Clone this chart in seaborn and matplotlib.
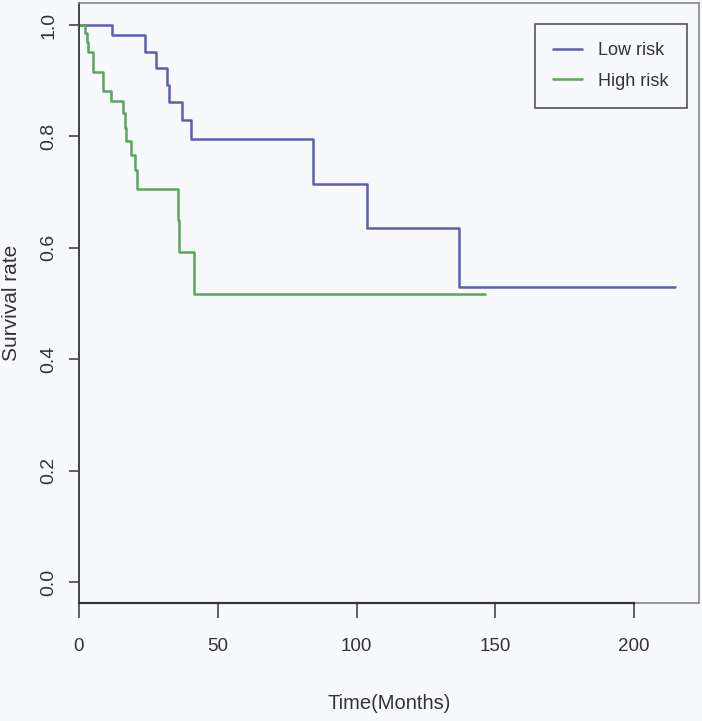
import numpy as np
import pandas as pd
import matplotlib
matplotlib.use("Agg")
import matplotlib.pyplot as plt
import seaborn as sns

# ---- data ----
low_time = [0, 11.9, 23.8, 27.6, 31.6, 32.5, 37.2, 40.4, 84.2, 103.7, 136.9, 214.8]
low_surv = [1.0, 0.982, 0.952, 0.922, 0.892, 0.862, 0.829, 0.795, 0.714, 0.635, 0.529, 0.529]

high_time = [0, 2.2, 2.8, 3.4, 5.2, 8.8, 11.5, 16.0, 16.4, 16.9, 18.6, 20.2, 20.8,
             35.6, 36.0, 41.6, 146.3]
high_surv = [1.0, 0.985, 0.97, 0.952, 0.916, 0.881, 0.864, 0.842, 0.815, 0.792, 0.766,
             0.739, 0.705, 0.65, 0.592, 0.517, 0.517]

groups = ["Low risk", "High risk"]
x_ticks = [0, 50, 100, 150, 200]
y_ticks = [0.0, 0.2, 0.4, 0.6, 0.8, 1.0]
y_tick_labels = ["0.0", "0.2", "0.4", "0.6", "0.8", "1.0"]

df = pd.DataFrame({
    "time": low_time + high_time,
    "surv": low_surv + high_surv,
    "group": [groups[0]] * len(low_time) + [groups[1]] * len(high_time),
})

BG = "#f8f9fc"
palette = {"Low risk": "#5b5eb5", "High risk": "#5aa55a"}
FAM = ["Liberation Sans", "DejaVu Sans"]

sns.set_theme(style="white")
plt.rcParams["font.family"] = FAM

fig = plt.figure(figsize=(7.02, 7.21), dpi=100, facecolor=BG)
ax = fig.add_axes([79 / 702, 1 - 603 / 721, 620 / 702, 600 / 721])
ax.set_facecolor(BG)

sns.lineplot(data=df, x="time", y="surv", hue="group", palette=palette,
             estimator=None, sort=False, drawstyle="steps-post", linewidth=1.8,
             ax=ax, legend=True)

ax.set_xlim(0, 223.4)
ax.set_ylim(-0.0377, 1.0395)
ax.set_xticks(x_ticks)
ax.set_xticklabels([str(t) for t in x_ticks], fontsize=13.5, family=FAM, color="#333333")
ax.set_yticks(y_ticks)
ax.set_yticklabels(y_tick_labels, fontsize=14, family=FAM, color="#333333",
                   rotation=90, va="center")

ax.tick_params(axis="x", direction="out", length=11, width=1.2, color="#444444",
               pad=14, bottom=True)
ax.tick_params(axis="y", direction="out", length=7.5, width=1.2, color="#444444",
               pad=8, left=True)

# frame: grey box + dark axis lines
for s in ["top", "right"]:
    ax.spines[s].set_color("#888888")
    ax.spines[s].set_linewidth(1.2)
ax.spines["left"].set_color("#444444")
ax.spines["left"].set_linewidth(1.4)
ax.plot([0, 1], [0, 0], transform=ax.transAxes, color="#888888", lw=1.2,
        clip_on=False, zorder=1)
ax.spines["bottom"].set_bounds(0, 200)
ax.spines["bottom"].set_color("#333333")
ax.spines["bottom"].set_linewidth(1.6)

ax.set_xlabel("Time(Months)", fontsize=14.5, family=FAM, color="#333333")
ax.set_ylabel("Survival rate", fontsize=15, family=FAM, color="#333333")
ax.xaxis.set_label_coords(0.5, -0.152)
ax.yaxis.set_label_coords(-0.093, 0.5)

leg = ax.legend(loc="upper right", bbox_to_anchor=(0.9806, 0.965), borderaxespad=0,
                frameon=True, fancybox=False, framealpha=1, facecolor=BG,
                edgecolor="#555555", handlelength=1.6, handletextpad=0.9,
                labelspacing=0.75, borderpad=1.0,
                prop={"family": FAM, "size": 13})
leg.get_frame().set_linewidth(1.2)
for t in leg.get_texts():
    t.set_color("#333333")
for l in leg.get_lines():
    l.set_linewidth(1.8)

fig.savefig("out.png", dpi=100, facecolor=BG)
